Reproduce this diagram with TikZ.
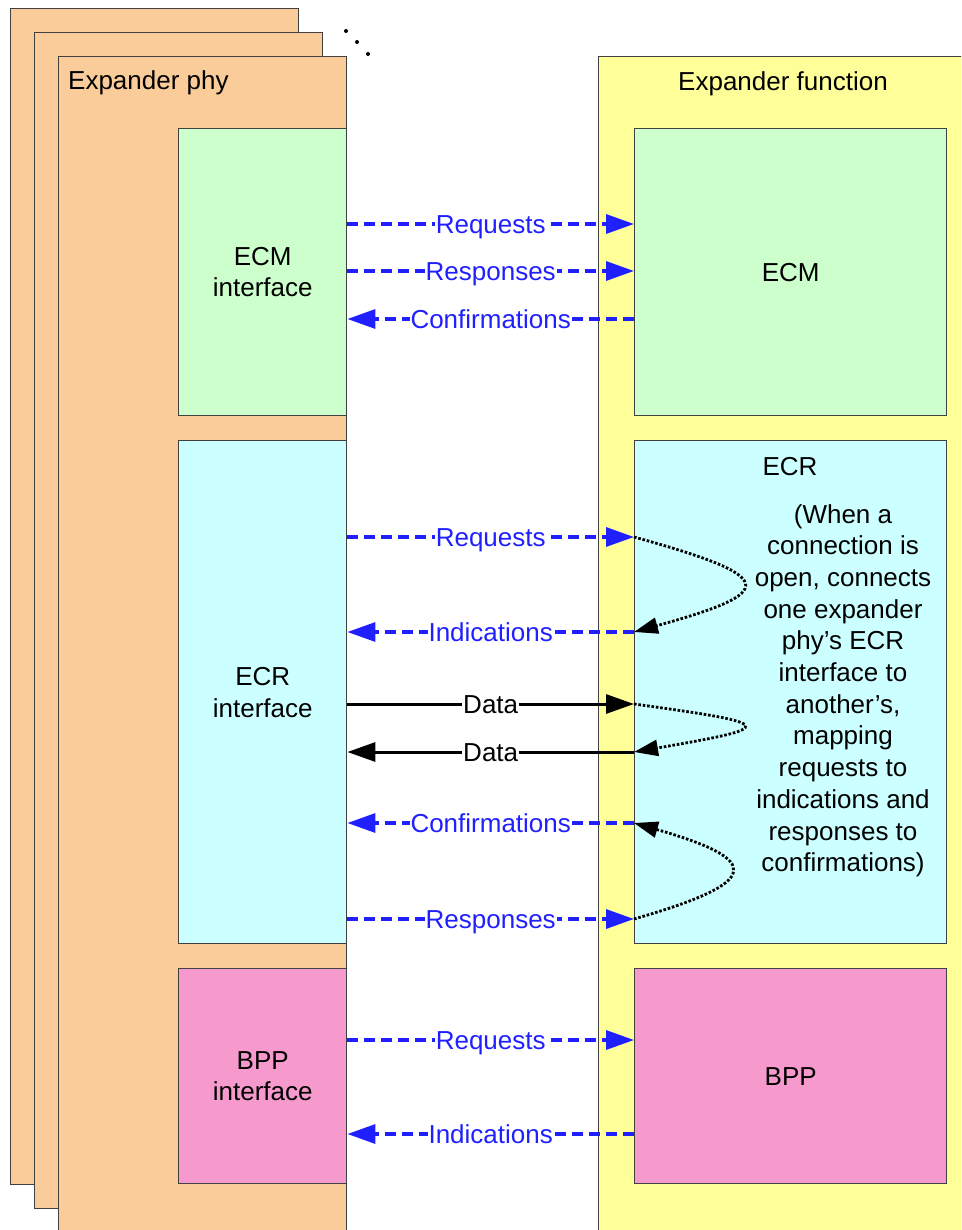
\documentclass[tikz,border=0pt]{standalone}
\usepackage{fontspec}
\setmainfont{Liberation Sans}
\usetikzlibrary{arrows.meta}
\definecolor{phyorange}{HTML}{FACC99}
\definecolor{funcyellow}{HTML}{FFFF99}
\definecolor{ecmgreen}{HTML}{CCFFCC}
\definecolor{ecrcyan}{HTML}{CCFFFF}
\definecolor{bpppink}{HTML}{F699CC}
\definecolor{arrblue}{HTML}{2020FF}
\definecolor{edgegray}{HTML}{404040}
\begin{document}
\begin{tikzpicture}[x=1pt,y=-1pt,
  box/.style={draw=edgegray, line width=1.4pt, inner sep=0pt, anchor=north west},
  txt/.style={font=\fontsize{26}{31.7}\selectfont, align=center, inner sep=0pt},
  lbl/.style={font=\fontsize{26}{31.7}\selectfont, fill=white, inner xsep=1pt, inner ysep=0pt, text height=18.6pt, text depth=0pt},
  bluearr/.style={draw=arrblue, line width=3.3pt, dash pattern=on 11pt off 6pt, -{Triangle[length=28pt,width=19pt]}},
  blackarr/.style={draw=black, line width=3pt, -{Triangle[length=28pt,width=19pt]}},
  dotarr/.style={draw=black, line width=2.8pt, dash pattern=on 2.6pt off 1.8pt, -{Triangle[length=24pt,width=16pt]}},
  dotmark/.style={circle, fill=black, inner sep=0pt, minimum size=4pt}
]
\useasboundingbox (0,0) rectangle (961,1230);
\clip (0,0) rectangle (961,1230);

% stacked expander phy boxes
\node[box, fill=phyorange, minimum width=288pt, minimum height=1176pt] (phy3) at (10,8) {};
\node[box, fill=phyorange, minimum width=288pt, minimum height=1176pt] (phy2) at (34,32) {};
\node[box, fill=phyorange, minimum width=288pt, minimum height=1200pt] (phy1) at (58,56) {};
\node[dotmark] (d1) at (346,31) {};
\node[dotmark] (d2) at (357,42) {};
\node[dotmark] (d3) at (368,54) {};

% expander function
\node[box, fill=funcyellow, minimum width=400pt, minimum height=1200pt] (func) at (598,56) {};

\node[txt, anchor=base west] (phytitle) at (68,90) {Expander phy};
\node[txt, anchor=base] (functitle) at (783,90.7) {Expander function};

% inner boxes
\node[box, fill=ecmgreen, minimum width=168pt, minimum height=287pt] (ecmi) at (178,128) {};
\node[box, fill=ecmgreen, minimum width=312pt, minimum height=287pt] (ecm) at (634,128) {};
\node[box, fill=ecrcyan, minimum width=168pt, minimum height=503pt] (ecri) at (178,440) {};
\node[box, fill=ecrcyan, minimum width=312pt, minimum height=503pt] (ecr) at (634,440) {};
\node[box, fill=bpppink, minimum width=168pt, minimum height=215pt] (bppi) at (178,968) {};
\node[box, fill=bpppink, minimum width=312pt, minimum height=215pt] (bpp) at (634,968) {};

\node[txt] (ecmitxt) at (ecmi.center) {ECM\\interface};
\node[txt] (ecmtxt) at (ecm.center) {ECM};
\node[txt] (ecritxt) at (ecri.center) {ECR\\interface};
\node[txt, anchor=base] (ecrtxt) at (790,475) {ECR};
\node[txt, anchor=north] (ecrnote) at (843,504) {(When a\\connection is\\open, connects\\one expander\\phy’s ECR\\interface to\\another’s,\\mapping\\requests to\\indications and\\responses to\\confirmations)};
\node[txt] (bppitxt) at (bppi.center) {BPP\\interface};
\node[txt] (bpptxt) at (bpp.center) {BPP};

% ECM arrows
\draw[bluearr] (ecmi.east |- 0,224) -- node[lbl, text=arrblue] (l1) {Requests} (ecm.west |- 0,224);
\draw[bluearr] (ecmi.east |- 0,271) -- node[lbl, text=arrblue] (l2) {Responses} (ecm.west |- 0,271);
\draw[bluearr] (ecm.west |- 0,319) -- node[lbl, text=arrblue] (l3) {Confirmations} (ecmi.east |- 0,319);

% ECR arrows
\draw[bluearr] (ecri.east |- 0,537) -- node[lbl, text=arrblue] (l4) {Requests} (ecr.west |- 0,537);
\draw[bluearr] (ecr.west |- 0,632) -- node[lbl, text=arrblue] (l5) {Indications} (ecri.east |- 0,632);
\draw[blackarr] (ecri.east |- 0,704) -- node[lbl] (l6) {Data} (ecr.west |- 0,704);
\draw[blackarr] (ecr.west |- 0,752) -- node[lbl] (l7) {Data} (ecri.east |- 0,752);
\draw[bluearr] (ecr.west |- 0,823) -- node[lbl, text=arrblue] (l8) {Confirmations} (ecri.east |- 0,823);
\draw[bluearr] (ecri.east |- 0,919) -- node[lbl, text=arrblue] (l9) {Responses} (ecr.west |- 0,919);

% BPP arrows
\draw[bluearr] (bppi.east |- 0,1040) -- node[lbl, text=arrblue] (l10) {Requests} (bpp.west |- 0,1040);
\draw[bluearr] (bpp.west |- 0,1134) -- node[lbl, text=arrblue] (l11) {Indications} (bppi.east |- 0,1134);

% dotted mapping curves
\draw[dotarr] (ecr.west |- 0,537) .. controls +(145,40) and +(145,-40) .. (ecr.west |- 0,632);
\draw[dotarr] (ecr.west |- 0,704) .. controls +(145,20) and +(145,-25) .. (ecr.west |- 0,752);
\draw[dotarr] (ecr.west |- 0,919) .. controls +(129,-37) and +(129,37) .. (ecr.west |- 0,823);
\end{tikzpicture}
\end{document}
